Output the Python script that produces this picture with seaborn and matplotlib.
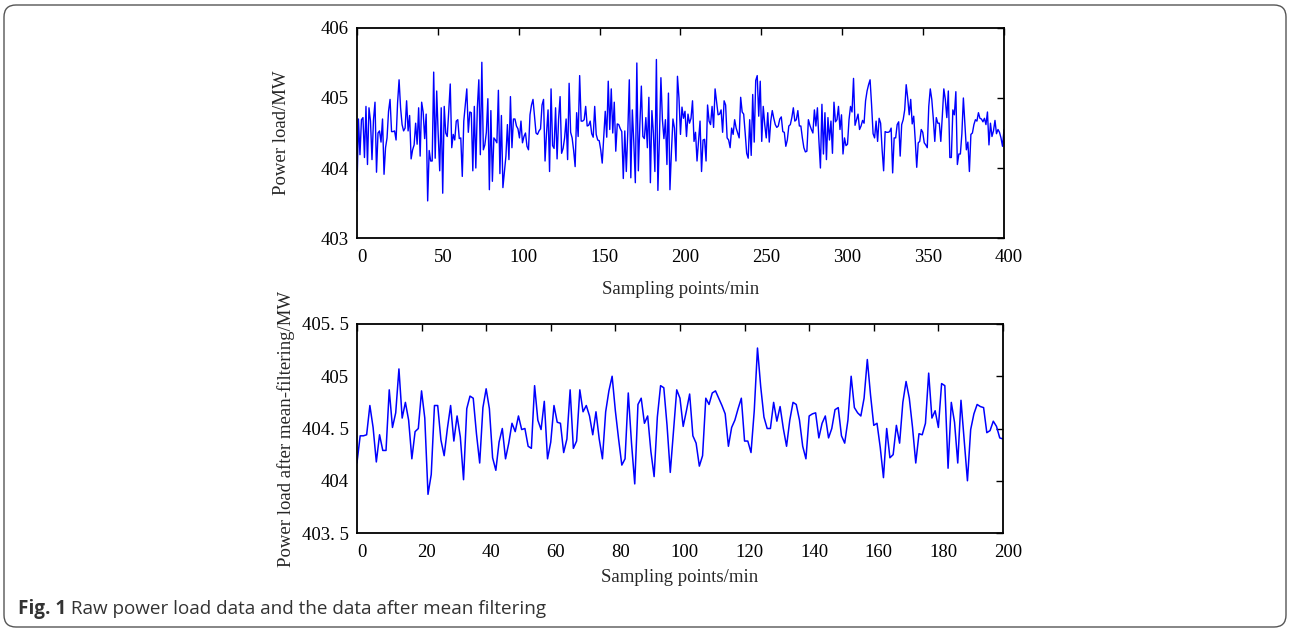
import numpy as np
import matplotlib
matplotlib.use("Agg")
import matplotlib.pyplot as plt
import matplotlib.transforms as mtransforms
from matplotlib.patches import FancyBboxPatch
import seaborn as sns

# raw power load (MW)
raw_load = [
    403.67, 404.70, 404.19, 404.69, 404.72, 404.15, 404.88, 404.05, 404.86, 404.67, 404.12, 404.69, 404.94, 403.94,
    404.50, 404.53, 404.37, 404.70, 403.91, 404.29, 404.43, 404.81, 404.98, 404.52, 404.52, 404.53, 404.40, 404.93,
    405.26, 404.86, 404.62, 404.53, 404.57, 404.96, 404.53, 404.75, 404.13, 404.26, 404.33, 404.64, 404.34, 404.86,
    404.17, 404.94, 404.80, 404.42, 404.77, 403.53, 404.25, 404.10, 404.10, 405.37, 404.14, 405.10, 404.48, 403.96,
    404.86, 403.64, 404.88, 404.50, 404.45, 404.81, 405.20, 404.29, 404.48, 404.40, 404.67, 404.69, 404.42, 404.43,
    403.88, 404.67,
    404.90, 405.13, 404.51, 404.80, 404.79, 403.96, 404.88, 404.00, 404.86, 405.26, 404.19, 405.51, 404.26, 404.33,
    404.51, 404.99, 403.69, 404.82, 403.81, 404.43, 404.40, 404.36, 405.11, 403.92, 404.75, 403.72, 403.95, 404.17,
    404.62, 404.12, 405.02, 404.29, 404.70, 404.70, 404.60, 404.56, 404.43, 404.67, 404.36, 404.45, 404.50, 404.31,
    404.26, 404.76, 404.90, 404.98, 404.74, 404.50, 404.48, 404.53, 404.56, 404.90, 404.98, 404.10, 404.50, 404.83,
    403.95, 405.13, 404.32, 404.28, 404.86, 404.13, 404.70, 405.02, 404.21, 404.28, 404.43, 404.70, 404.12, 405.21,
    404.51, 404.43, 404.25, 404.02, 404.79, 404.45, 405.32, 404.67, 404.67, 404.69, 404.88, 404.60, 404.61, 404.67,
    404.49, 404.44, 404.88, 404.48, 404.40, 404.39, 404.26, 404.07, 404.43, 404.81, 404.44, 405.24, 404.55, 405.13,
    404.50, 404.94, 404.24, 404.63, 404.62, 404.56, 404.52, 403.85, 404.53, 403.95, 404.52, 405.26, 403.86, 404.83,
    404.36, 403.79, 405.50, 403.96, 404.62, 405.17, 404.45, 404.42, 404.72, 404.29, 405.01, 403.79, 404.82, 404.50,
    403.95, 405.55, 403.68, 404.43, 405.29, 404.69, 404.42, 404.69, 404.05, 405.07, 403.69, 404.24, 404.70, 404.57,
    404.10, 405.31,
    405.00, 404.48, 404.87, 404.71, 404.81, 404.45, 404.77, 404.64, 404.71, 404.96, 404.38, 404.51, 404.10, 404.38,
    404.67, 403.95, 404.40, 404.41, 404.10, 404.90, 404.67, 404.62, 404.88, 404.58, 405.13, 404.95, 404.76, 404.77,
    404.83, 404.51, 404.96, 404.90, 404.43, 404.40, 404.29, 404.57, 404.48, 404.69, 404.57, 404.50, 404.43, 405.01,
    404.80, 404.77, 404.50, 404.21, 404.14, 404.69, 404.18, 405.05, 404.37, 405.25, 405.32, 404.74, 405.24, 404.38,
    404.88, 404.62, 404.43, 404.79, 404.37, 404.67, 404.82, 404.71, 404.62, 404.58, 404.60, 404.70,
    404.73, 404.52, 404.51, 404.31, 404.40, 404.60, 404.62, 404.72, 404.86, 404.67, 404.69, 404.82, 404.60, 404.60,
    404.43, 404.29, 404.23, 404.24, 404.69, 404.61, 404.55, 404.50, 404.83, 404.60, 404.86, 404.39, 404.00, 404.91,
    404.20, 404.79, 404.12, 404.72, 404.40, 404.67, 404.21, 404.94, 404.66, 404.69, 404.88, 404.55, 404.76, 404.20,
    404.43, 404.32, 404.34, 404.69, 404.88, 404.80, 405.28, 404.61, 404.69, 404.77, 404.55, 404.60, 404.68, 404.64,
    404.96, 405.10, 405.19, 405.26, 404.90, 404.49, 404.43, 404.67, 404.38, 404.71, 404.64, 404.26, 403.96, 404.52,
    404.51, 404.51, 404.52, 404.57, 403.93, 404.43, 404.43, 404.62, 404.66, 404.17, 404.62, 404.69, 404.83, 405.19,
    405.00, 404.76, 404.98, 404.63, 404.74, 404.40, 404.01, 404.36, 404.38, 404.55, 404.51, 404.36, 404.33, 404.29,
    404.88, 405.13, 404.98, 404.71, 404.38, 404.72, 404.64, 404.64, 404.38, 404.74, 405.13, 404.98, 404.72, 405.10,
    404.15, 404.15, 404.83, 404.76, 405.09, 404.05, 404.20, 404.20, 404.49, 405.00, 404.62, 404.26, 404.37, 403.95,
    404.48, 404.50, 404.62, 404.69, 404.67, 404.79, 404.71, 404.70, 404.66, 404.71, 404.62, 404.80, 404.33, 404.64,
    404.45, 404.53, 404.68, 404.49, 404.55, 404.51, 404.43, 404.31, 404.55,
]

# power load after mean filtering (MW), lower panel
filtered_load = [
    404.17, 404.43, 404.43, 404.44, 404.72, 404.51, 404.18, 404.44, 404.29, 404.29, 404.87, 404.51, 404.65, 405.07,
    404.60, 404.75, 404.58, 404.21, 404.47, 404.50, 404.86, 404.60, 403.87, 404.06, 404.72, 404.72, 404.39, 404.24,
    404.50, 404.72, 404.38, 404.62, 404.42, 404.01, 404.69, 404.81, 404.79, 404.45, 404.17, 404.70, 404.88, 404.69,
    404.22, 404.10, 404.37, 404.50, 404.21, 404.36, 404.55, 404.47, 404.62, 404.49,
    404.50, 404.33, 404.31, 404.91, 404.58, 404.49, 404.76, 404.21, 404.37, 404.72, 404.56, 404.55, 404.27, 404.40,
    404.87, 404.31, 404.38, 404.87, 404.66, 404.72, 404.62, 404.44, 404.66, 404.40, 404.21, 404.66, 404.86, 405.00,
    404.67, 404.40, 404.15, 404.21, 404.84, 404.36, 403.97, 404.73, 404.79, 404.55, 404.62, 404.28, 404.04, 404.61,
    404.91, 404.89, 404.53, 404.08, 404.48, 404.87,
    404.79, 404.52, 404.67, 404.83, 404.43, 404.36, 404.14, 404.24, 404.79, 404.73, 404.84, 404.86, 404.79, 404.72,
    404.64, 404.33, 404.51, 404.58, 404.69, 404.79, 404.38, 404.38, 404.27, 404.67, 405.27, 404.90, 404.61, 404.50,
    404.50, 404.75, 404.57, 404.71, 404.50, 404.33, 404.58, 404.75, 404.73, 404.58, 404.33, 404.21, 404.62, 404.64,
    404.65, 404.41, 404.55, 404.62, 404.41, 404.50, 404.68, 404.70, 404.43,
    404.36, 404.58, 405.00, 404.70, 404.65, 404.62, 404.79, 405.16, 404.82, 404.53, 404.55, 404.32, 404.03, 404.50,
    404.22, 404.25, 404.53, 404.36, 404.75, 404.95, 404.79, 404.51, 404.17, 404.45, 404.44, 404.55, 405.03, 404.60,
    404.67, 404.51, 404.93, 404.91, 404.12, 404.75, 404.56, 404.17, 404.77, 404.38, 404.00, 404.49, 404.64, 404.73,
    404.71, 404.70, 404.46, 404.48, 404.57, 404.52, 404.41, 404.40,
]

top_xticks = [0, 50, 100, 150, 200, 250, 300, 350, 400]
top_yticks = [403, 404, 405, 406]
bottom_xticks = [0, 20, 40, 60, 80, 100, 120, 140, 160, 180, 200]
bottom_yticks = [403.5, 404, 404.5, 405, 405.5]
bottom_ytick_labels = ["403. 5", "404", "404. 5", "405", "405. 5"]
caption_bold = "Fig. 1"
caption_text = " Raw power load data and the data after mean filtering"

FS = 13.5


def set_config():
    sns.set_style("white")
    plt.rcParams["font.family"] = ["Liberation Serif", "DejaVu Serif"]
    plt.rcParams["font.size"] = FS
    plt.rcParams["axes.linewidth"] = 1.3
    plt.rcParams["axes.edgecolor"] = "black"


def style_axes(fig, ax, xticks, yticks, ylabels=None):
    ax.set_xticks(xticks)
    ax.set_yticks(yticks)
    if ylabels is not None:
        ax.set_yticklabels(ylabels)
    ax.set_xlim(xticks[0], xticks[-1])
    ax.set_ylim(yticks[0], yticks[-1])
    ax.tick_params(direction="in", top=True, right=True, length=5, width=1,
                   labelsize=FS, colors="black", pad=6)
    ax.tick_params(axis="x", pad=8)
    # the original's x tick labels sit a few pixels right of their ticks
    shift = mtransforms.ScaledTranslation(5 / 100, 0, fig.dpi_scale_trans)
    for lab in ax.get_xticklabels():
        lab.set_transform(lab.get_transform() + shift)
    for s in ax.spines.values():
        s.set_visible(True)
        s.set_color("black")


def main():
    set_config()
    fig = plt.figure(figsize=(12.9, 6.29), dpi=100)

    # top panel: raw samples over 0..400 min
    ax1 = fig.add_axes([0.2767, 0.6216, 0.5016, 0.3339])
    raw_x = np.linspace(0, 400, len(raw_load))
    sns.lineplot(x=raw_x, y=raw_load, ax=ax1, color="blue", linewidth=1.0)
    style_axes(fig, ax1, top_xticks, top_yticks)
    ax1.set_xlabel("Sampling points/min", fontsize=FS, labelpad=11)
    ax1.set_ylabel("Power load/MW", fontsize=FS, labelpad=22)

    # bottom panel: after mean filtering
    ax2 = fig.add_axes([0.2767, 0.1526, 0.5008, 0.3323])
    filt_x = np.arange(len(filtered_load))
    sns.lineplot(x=filt_x, y=filtered_load, ax=ax2, color="blue", linewidth=1.1)
    style_axes(fig, ax2, bottom_xticks, bottom_yticks, bottom_ytick_labels)
    ax2.set_xlabel("Sampling points/min", fontsize=FS, labelpad=6)
    ax2.set_ylabel("Power load after mean-filtering/MW", fontsize=FS, labelpad=5)

    # outer rounded frame
    frame = FancyBboxPatch((4, 2), 1282, 622, boxstyle="round,pad=0,rounding_size=12",
                           transform=mtransforms.IdentityTransform(),
                           facecolor="none", edgecolor="#555555", linewidth=1.0)
    fig.add_artist(frame)

    # caption
    t = fig.text(0.014, 0.032, caption_bold, fontsize=13.6, fontweight="bold",
                 family=["Open Sans", "DejaVu Sans"], color="#333333", va="center")
    fig.canvas.draw()
    bb = t.get_window_extent()
    fig.text(bb.x1 / fig.bbox.width, 0.032, caption_text, fontsize=13.6,
             family=["Open Sans", "DejaVu Sans"], color="#333333", va="center")

    fig.savefig("out.png", dpi=100)


if __name__ == "__main__":
    main()
